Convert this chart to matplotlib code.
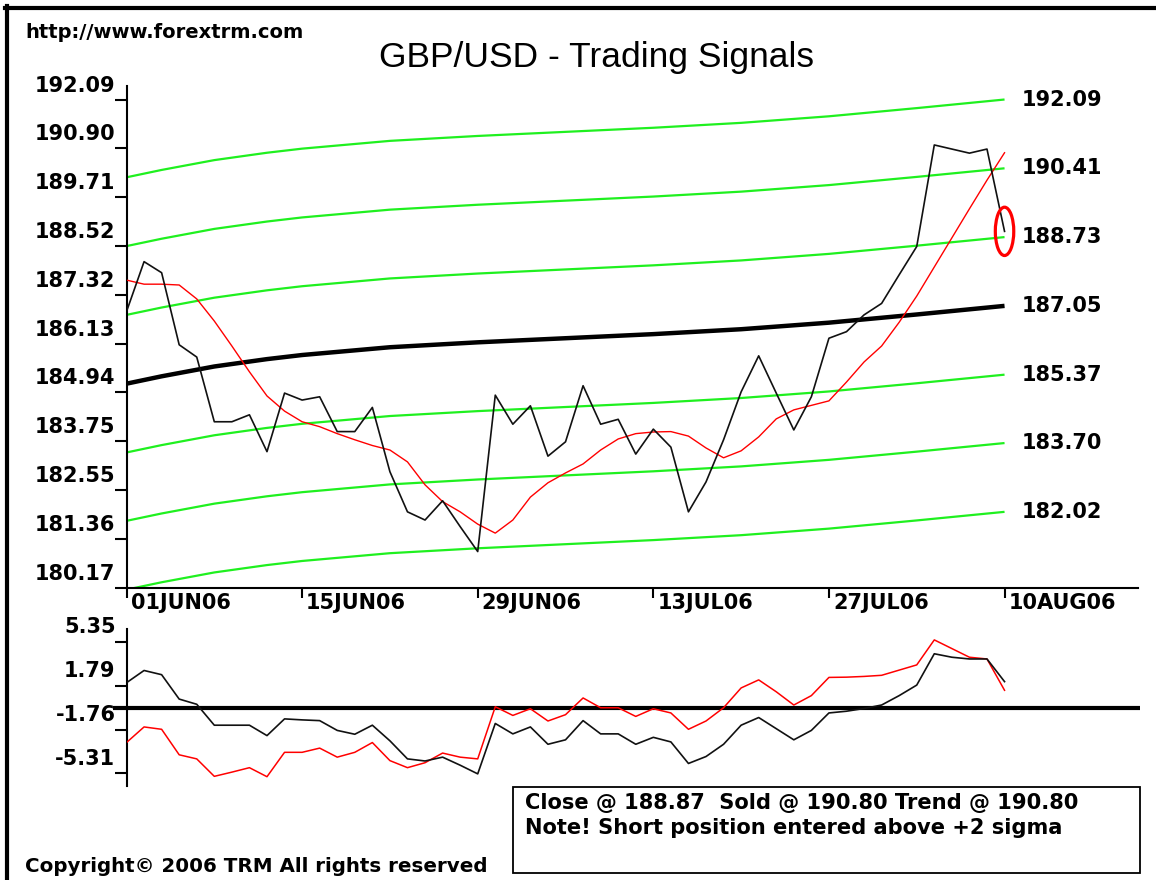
import matplotlib
matplotlib.use("Agg")
import matplotlib.pyplot as plt
from matplotlib import transforms
from matplotlib.patches import Ellipse, Rectangle
from matplotlib.lines import Line2D

# ---------------- data ----------------
days = list(range(51))
price = [186.91, 188.13, 187.86, 186.10, 185.80, 184.22, 184.22, 184.39, 183.49, 184.92,
         184.75, 184.83, 183.98, 183.98, 184.57, 183.00, 182.02, 181.82, 182.29, 181.66,
         181.05, 184.87, 184.16, 184.61, 183.38, 183.73, 185.10, 184.16, 184.28, 183.43,
         184.04, 183.60, 182.02, 182.75, 183.78, 184.95, 185.83, 184.92, 184.02, 184.83,
         186.26, 186.42, 186.83, 187.11, 187.81, 188.50, 190.98, 190.88, 190.78, 190.88,
         188.87]
trend = [187.68, 187.58, 187.58, 187.56, 187.22, 186.68, 186.07, 185.44, 184.85, 184.48,
         184.22, 184.10, 183.93, 183.78, 183.64, 183.53, 183.24, 182.68, 182.27, 182.02,
         181.72, 181.50, 181.82, 182.38, 182.73, 182.97, 183.19, 183.53, 183.80, 183.93,
         183.97, 183.98, 183.87, 183.58, 183.34, 183.51, 183.85, 184.29, 184.51, 184.62,
         184.73, 185.19, 185.68, 186.07, 186.65, 187.29, 188.00, 188.71, 189.42, 190.12,
         190.79]
center_days = [0, 2, 5, 8, 10, 15, 20, 25, 30, 35, 40, 45, 50]
center_vals = [185.15, 185.33, 185.57, 185.75, 185.85, 186.04, 186.16, 186.26, 186.36,
               186.48, 186.64, 186.84, 187.05]
band_offsets = [5.04, 3.36, 1.68, -1.68, -3.35, -5.03]
right_labels = ["192.09", "190.41", "188.73", "187.05", "185.37", "183.70", "182.02"]

osc_black = [2.02, 3.01, 2.67, 0.70, 0.28, -1.41, -1.41, -1.41, -2.25, -0.90,
             -0.98, -1.04, -1.83, -2.14, -1.41, -2.67, -4.13, -4.30, -3.99, -4.64,
             -5.34, -1.27, -2.11, -1.55, -2.95, -2.59, -1.04, -2.11, -2.11, -2.95,
             -2.39, -2.76, -4.50, -3.94, -2.95, -1.41, -0.79, -1.69, -2.59, -1.83,
             -0.42, -0.28, -0.06, 0.22, 0.98, 1.83, 4.36, 4.08, 3.94, 3.94, 2.11]
osc_red = [-2.81, -1.55, -1.74, -3.80, -4.13, -5.54, -5.20, -4.84, -5.57, -3.60,
           -3.60, -3.26, -3.99, -3.60, -2.81, -4.27, -4.84, -4.44, -3.66, -3.99,
           -4.13, 0.08, -0.62, -0.08, -1.07, -0.56, 0.79, 0.00, 0.00, -0.70,
           -0.08, -0.42, -1.74, -1.07, 0.00, 1.60, 2.25, 1.29, 0.22, 0.98,
           2.45, 2.47, 2.53, 2.62, 3.04, 3.46, 5.48, 4.78, 4.08, 3.94, 1.41]

main_yticks = ["192.09", "190.90", "189.71", "188.52", "187.32", "186.13",
               "184.94", "183.75", "182.55", "181.36", "180.17"]
osc_yticks = ["5.35", "1.79", "-1.76", "-5.31"]
xtick_days = [0, 10, 20, 30, 40, 50]
xtick_labels = ["01JUN06", "15JUN06", "29JUN06", "13JUL06", "27JUL06", "10AUG06"]

close_day, close_val = 50, 188.87
info_line1 = "Close @ 188.87  Sold @ 190.80 Trend @ 190.80"
info_line2 = "Note! Short position entered above +2 sigma"

# ---------------- figure ----------------
W, H = 1156, 880
fig = plt.figure(figsize=(W / 100, H / 100), dpi=100)
fig.patch.set_facecolor("white")

BOLD = dict(family="DejaVu Sans", weight="bold")
GREEN = "#1ff01f"


def fx(px):
    return px / W


def fy(py):
    return 1 - py / H


def off(tr, dx, dy):
    return tr + transforms.ScaledTranslation(dx / 100, dy / 100, fig.dpi_scale_trans)


L, R = 126.5, 1138
ax = fig.add_axes([fx(L), fy(588), fx(R) - fx(L), (588 - 86) / H])
ax.set_xlim(0, 57.6)
ax.set_ylim(180.16, 192.42)

# bands
for o in band_offsets:
    ax.plot(center_days, [c + o for c in center_vals], color=GREEN, lw=1.6,
            solid_capstyle="butt", zorder=2)
ax.plot(center_days, center_vals, color="black", lw=3.2, solid_capstyle="butt", zorder=3)
ax.plot(days, trend, color="#ff0000", lw=1.0, zorder=4)
ax.plot(days, price, color="#111111", lw=1.2, zorder=5)
ax.add_patch(Ellipse((close_day, close_val), 1.05, 1.18, fill=False,
                     edgecolor="#ff0000", lw=2.3, zorder=6))

for s in ["top", "right"]:
    ax.spines[s].set_visible(False)
for s in ["left", "bottom"]:
    ax.spines[s].set_linewidth(1.5)
    ax.spines[s].set_color("black")

vals = [float(v) for v in main_yticks]
ax.set_yticks(vals)
ax.set_yticklabels([])
ax.tick_params(axis="y", direction="out", length=8.6, width=1.5, color="black")
ytr = transforms.blended_transform_factory(ax.transAxes, ax.transData)
for v, lab in zip(vals, main_yticks):
    ax.text(0, v, lab, transform=off(ytr, -11, 14), ha="right", va="center",
            fontsize=15, **BOLD)

ax.set_xticks(xtick_days)
ax.set_xticklabels([])
ax.tick_params(axis="x", direction="out", length=7.5, width=1.5, color="black")
xtr = transforms.blended_transform_factory(ax.transData, ax.transAxes)
for d, lab in zip(xtick_days, xtick_labels):
    ax.text(d, 0, lab, transform=off(xtr, 4, -5), ha="left", va="top",
            fontsize=15, **BOLD)

for lab in right_labels:
    ax.text(days[-1], float(lab), lab, transform=off(ax.transData, 17, 0),
            ha="left", va="center", fontsize=15, clip_on=False, **BOLD)

# ---------------- oscillator panel ----------------
ax2 = fig.add_axes([fx(L), fy(786), fx(R) - fx(L), (786 - 629) / H])
ax2.set_xlim(0, 57.6)
ax2.set_ylim(-6.32, 6.36)
for s in ["top", "right", "bottom"]:
    ax2.spines[s].set_visible(False)
ax2.spines["left"].set_linewidth(1.5)
ax2.set_xticks([])
ov = [float(v) for v in osc_yticks]
ax2.set_yticks(ov)
ax2.set_yticklabels([])
ax2.tick_params(axis="y", direction="out", length=8.6, width=1.5, color="black")
ytr2 = transforms.blended_transform_factory(ax2.transAxes, ax2.transData)
for v, lab in zip(ov, osc_yticks):
    ax2.text(0, v, lab, transform=off(ytr2, -11, 14.5), ha="right", va="center",
             fontsize=15, **BOLD)
ax2.plot([-0.0133, 1.0015], [0, 0], transform=ytr2, color="black", lw=3.0,
         clip_on=False, solid_capstyle="butt", zorder=2)
ax2.plot(days, osc_red, color="#ff0000", lw=1.1, zorder=3)
ax2.plot(days, osc_black, color="#111111", lw=1.2, zorder=4)

# ---------------- texts & frame ----------------
fig.text(fx(596.5), fy(58), "GBP/USD - Trading Signals", ha="center", va="center",
         fontsize=25.5, family="Liberation Sans")
fig.text(fx(25), fy(32), "http://www.forextrm.com", ha="left", va="center",
         fontsize=14, **BOLD)
fig.text(fx(25), fy(866), "Copyright\u00a9 2006 TRM All rights reserved", ha="left",
         va="center", fontsize=14.3, **BOLD)

fig.patches.append(Rectangle((fx(513), fy(873)), fx(1140) - fx(513), (873 - 787) / H,
                             transform=fig.transFigure, fill=False, lw=1.3,
                             edgecolor="black"))
fig.text(fx(525), fy(803), info_line1, ha="left", va="center", fontsize=15.1, **BOLD)
fig.text(fx(525), fy(828), info_line2, ha="left", va="center", fontsize=15.1, **BOLD)

fig.add_artist(Line2D([fx(5), 1.0], [fy(8), fy(8)], transform=fig.transFigure,
                      color="black", lw=3))
fig.add_artist(Line2D([fx(7), fx(7)], [0.0, fy(6)], transform=fig.transFigure,
                      color="black", lw=3))

fig.savefig("out.png", dpi=100, facecolor="white")
